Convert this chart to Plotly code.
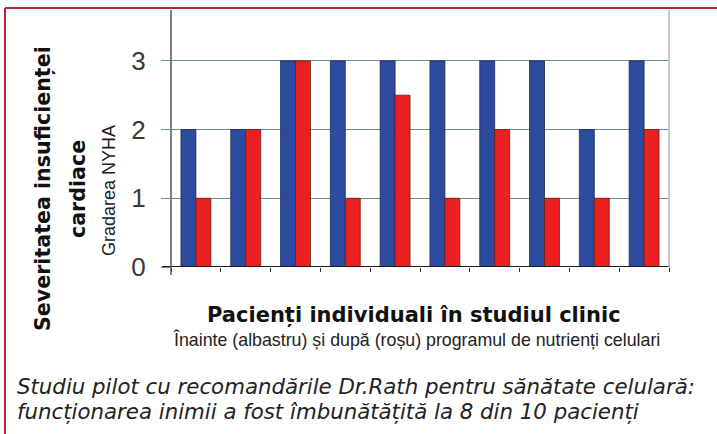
import plotly.graph_objects as go

patients = list(range(1, 11))
before = [2, 2, 3, 3, 3, 3, 3, 3, 2, 3]
after = [1, 2, 3, 1, 2.5, 1, 2, 1, 1, 2]
y_ticks = [0, 1, 2, 3]

W, H = 717, 434
L, R, T, B = 171, 669, 10, 267


def px(x):
    return (x - L) / (R - L)


def py(y):
    return (B - y) / (B - T)


fig = go.Figure()
fig.add_trace(go.Bar(x=patients, y=before, name="Înainte", marker=dict(color="#2d4b9e", line=dict(color="#1a2a50", width=0.8))))
fig.add_trace(go.Bar(x=patients, y=after, name="După", marker=dict(color="#ec2020", line=dict(color="#6a1a10", width=0.8))))

fig.update_layout(
    width=W, height=H,
    margin=dict(l=L, r=W - R, t=T, b=H - B),
    paper_bgcolor="white", plot_bgcolor="white",
    barmode="group", bargap=0.4, bargroupgap=0,
    showlegend=False,
    font=dict(family="Liberation Sans, Arial, sans-serif", color="#333333"),
)
fig.update_xaxes(
    range=[0.5, 10.5], showgrid=False, zeroline=False, showline=False,
    tickvals=[i + 0.5 for i in range(0, 11)], ticks="outside", ticklen=4,
    tickcolor="#333333", showticklabels=False,
)
fig.update_yaxes(
    range=[0, 3.74], tickvals=y_ticks, ticktext=[str(v) for v in y_ticks],
    showgrid=True, gridcolor="#6f8c97", gridwidth=1.2, zeroline=False,
    showline=False, ticks="outside", ticklen=9, tickcolor="#6f8c97",
    ticklabelstandoff=10,
    tickfont=dict(size=26, color="#3a3a3a", family="Liberation Sans, Arial"),
)

shapes = []
shapes.append(dict(type="line", xref="paper", yref="y", x0=px(162), x1=px(670), y0=0, y1=0,
                   line=dict(color="#1a1a1a", width=2)))
shapes.append(dict(type="line", xref="paper", yref="paper", x0=0, x1=0, y0=py(275), y1=1,
                   line=dict(color="#4a5a60", width=1.5)))
shapes.append(dict(type="line", xref="paper", yref="paper", x0=1, x1=1, y0=0, y1=1,
                   line=dict(color="#a9bcc4", width=1.5)))
shapes.append(dict(type="line", xref="paper", yref="paper", x0=px(5), x1=px(717), y0=py(8), y1=py(8),
                   line=dict(color="#b0283f", width=2)))
shapes.append(dict(type="line", xref="paper", yref="paper", x0=px(5), x1=px(5), y0=py(8), y1=py(434),
                   line=dict(color="#b0283f", width=2)))
fig.update_layout(shapes=shapes)

bold_font = "DejaVu Sans, sans-serif"


def note(text, x, y, size, family, color="#111111", angle=0, xanchor="center"):
    return dict(text=text, x=px(x), y=py(y), xref="paper", yref="paper",
                xanchor=xanchor, yanchor="middle", textangle=angle, showarrow=False,
                font=dict(size=size, color=color, family=family))


ann = [
    note("<b>Severitatea insuficienței</b>", 43, 189, 20.6, bold_font, angle=-90),
    note("<b>cardiace</b>", 78, 189, 20.6, bold_font, angle=-90),
    note("Gradarea NYHA", 109, 191, 18, "Liberation Sans, Arial", color="#222222", angle=-90),
    note("<b>Pacienți individuali în studiul clinic</b>", 414, 315, 21, bold_font),
    note("Înainte (albastru) și după (roșu) programul de nutrienți celulari", 416, 340, 17.8,
         "Liberation Sans, Arial, sans-serif", color="#222222"),
    note("<i>Studiu pilot cu recomandările Dr.Rath pentru sănătate celulară:</i>", 15, 386, 21.3,
         "DejaVu Sans, sans-serif", color="#222222", xanchor="left"),
    note("<i>funcționarea inimii a fost îmbunătățită la 8 din 10 pacienți</i>", 15, 411, 21.3,
         "DejaVu Sans, sans-serif", color="#222222", xanchor="left"),
]
fig.update_layout(annotations=ann)

fig.write_html("out.html", config={"displayModeBar": False},
               post_script="document.body.style.margin='0';")
